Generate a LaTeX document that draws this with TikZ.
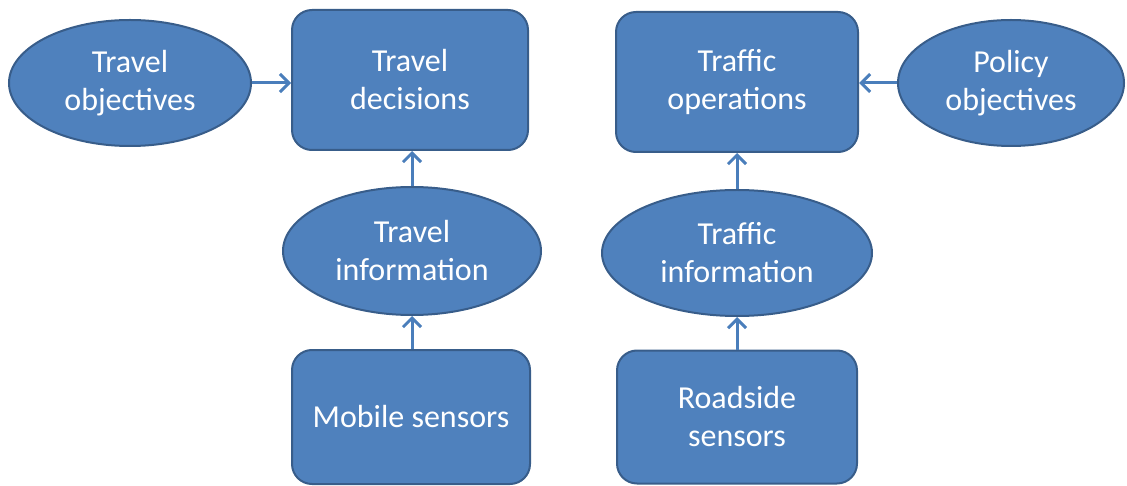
\documentclass[tikz,border=0pt]{standalone}
\usepackage{fontspec}
\setmainfont{Carlito}
\usetikzlibrary{shapes.geometric,arrows.meta}
\definecolor{boxfill}{HTML}{4F81BD}
\definecolor{boxline}{HTML}{385D8A}
\definecolor{arrowcol}{HTML}{4A7EBB}
\tikzset{
  base/.style={fill=boxfill, draw=boxline, line width=2pt, text=white, align=center, inner sep=0pt,
    font=\fontsize{32}{38}\selectfont},
  rbox/.style={base, rectangle, rounded corners=20pt},
  oval/.style={base, ellipse},
  arr/.style={draw=arrowcol, line width=3pt, -{Straight Barb[length=9pt,width=18pt,line width=3pt]}}
}
\begin{document}
\begin{tikzpicture}[x=1pt,y=-1pt]
\useasboundingbox (0,0) rectangle (1127,486);
% left column
\node[oval, minimum width=242pt, minimum height=126pt] (tobj) at (130,83) {Travel\\objectives};
\node[rbox, minimum width=236pt, minimum height=140pt] (tdec) at (410,80) {Travel\\decisions};
\node[oval, minimum width=258pt, minimum height=128pt] (tinf) at (412,251) {Travel\\information};
\node[rbox, minimum width=238pt, minimum height=134pt] (msen) at (411,417) {Mobile sensors};
% right column
\node[rbox, minimum width=242pt, minimum height=140pt] (tops) at (737,82) {Traffic\\operations};
\node[oval, minimum width=226pt, minimum height=126pt] (pobj) at (1011,83) {Policy\\objectives};
\node[oval, minimum width=270pt, minimum height=126pt] (trinf) at (737,253) {Traffic\\information};
\node[rbox, minimum width=240pt, minimum height=133pt] (rsen) at (737,417) {Roadside\\sensors};
% connectors
\draw[arr] (tobj.east) -- (tobj.east -| tdec.west);
\draw[arr] (tinf.north) -- (tinf.north |- tdec.south);
\draw[arr] (msen.north -| tinf.south) -- (tinf.south);
\draw[arr] (pobj.west) -- (pobj.west -| tops.east);
\draw[arr] (trinf.north) -- (tops.south);
\draw[arr] (rsen.north) -- (trinf.south);
\end{tikzpicture}
\end{document}
